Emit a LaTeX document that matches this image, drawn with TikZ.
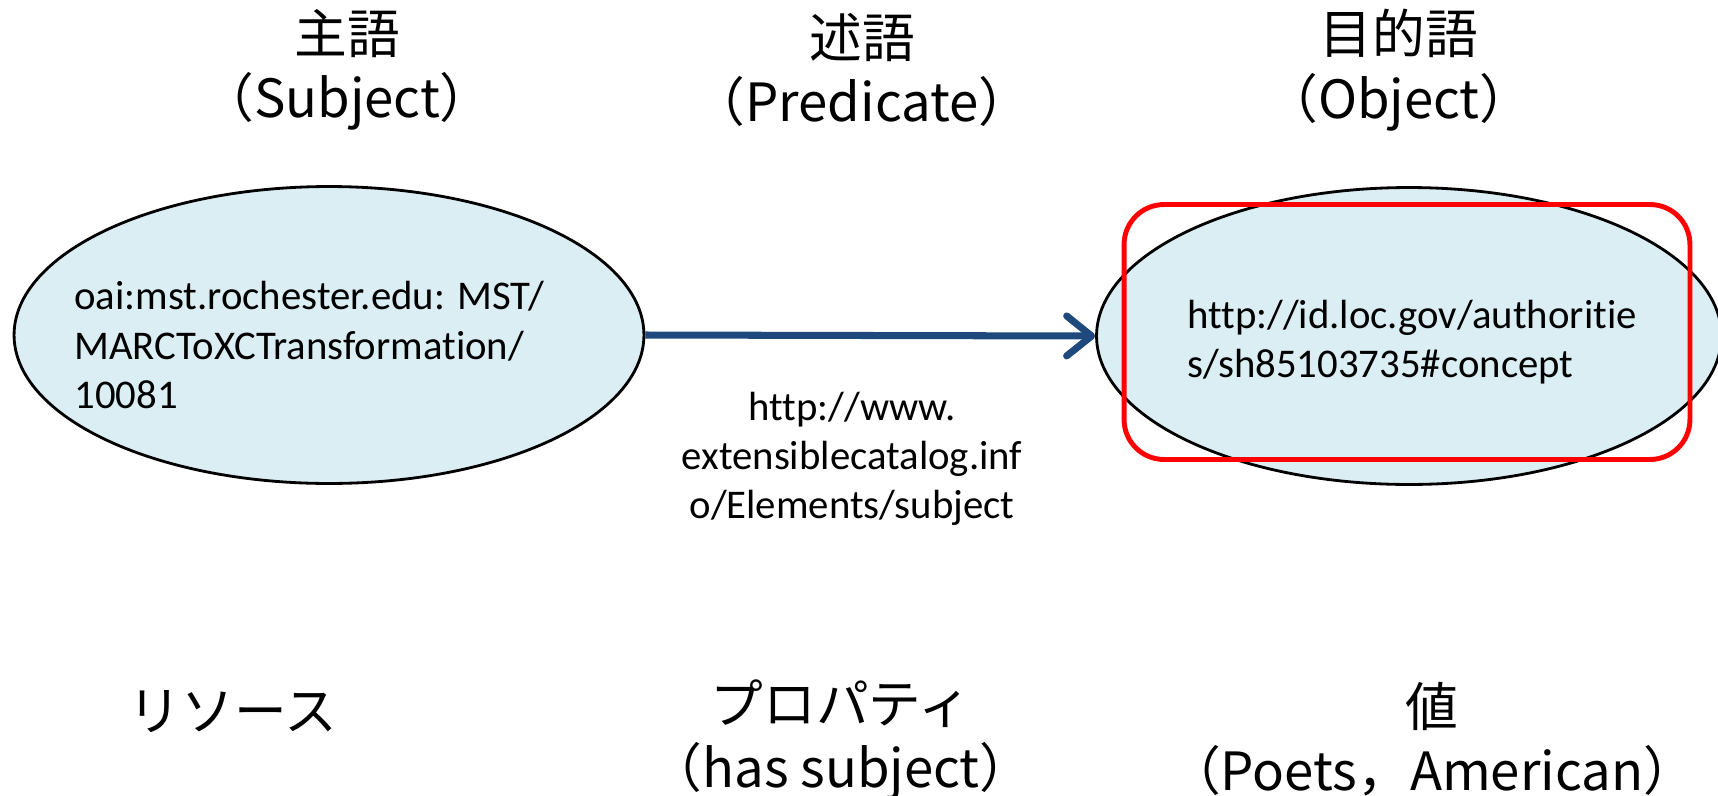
\documentclass[tikz,border=0pt]{standalone}
\usepackage{fontspec}
\usepackage{xcolor}
\usetikzlibrary{shapes.geometric,arrows.meta}
\setmainfont{Carlito}[Ligatures=NoCommon]
\newfontfamily\jpfont{Noto Sans CJK JP}
\definecolor{nodefill}{RGB}{219, 238, 244}
\definecolor{arrowblue}{RGB}{31, 73, 125}
\definecolor{markred}{RGB}{255, 0, 0}

\begin{document}
\begin{tikzpicture}[x=0.02cm, y=-0.02cm,
    rdfnode/.style={ellipse, draw=black, line width=1.6pt, fill=nodefill, inner sep=0pt},
    uritext/.style={font=\fontsize{23.2}{27.9}\selectfont, inner sep=0pt},
    headtext/.style={font=\jpfont\fontsize{30}{36.8}\selectfont, align=center, inner sep=0pt}]
    \useasboundingbox (0,0) rectangle (1718,795);

    % Column headings
    \node[headtext] (subjhead) at (347, 70) {主語\\（Subject）};
    \node[headtext] (predhead) at (862, 70) {述語\\（Predicate）};
    \node[headtext] (objhead) at (1399, 70) {目的語\\（Object）};

    % Subject and object (ellipses)
    \node[rdfnode, minimum width=12.6cm, minimum height=5.94cm] (subj) at (329, 335) {};
    \node[rdfnode, minimum width=12.5cm, minimum height=5.94cm] (obj) at (1409, 336) {};

    % Predicate arrow
    \draw[arrowblue, line width=4pt, -{Straight Barb[length=0.5cm, width=0.8cm, line cap=round, line join=round]}] (subj.east) -- (obj.west);

    % Highlight on the object
    \node[draw=markred, line width=2.8pt, rounded corners=0.8cm, minimum width=11.32cm, minimum height=5.1cm] (focus) at (1407, 332) {};

    % URIs
    \node[uritext, align=left, anchor=west] (subjuri) at (74, 345) {oai:mst.rochester.edu: MST/\\MARCToXCTransformation/\\10081};
    \node[uritext, align=left, anchor=west] (objuri) at (1187, 342) {http://id.loc.gov/authoritie\\s/sh85103735\#concept};
    \node[uritext, align=center] (preduri) at (852, 459) {http://www.\\extensiblecatalog.inf\\o/Elements/subject};

    % Bottom labels
    \node[headtext] (resource) at (233, 712) {リソース};
    \node[headtext] (property) at (841, 740) {プロパティ\\（has subject）};
    \node[headtext] (value) at (1432, 739) {値\\（Poets，American）};
\end{tikzpicture}
\end{document}
